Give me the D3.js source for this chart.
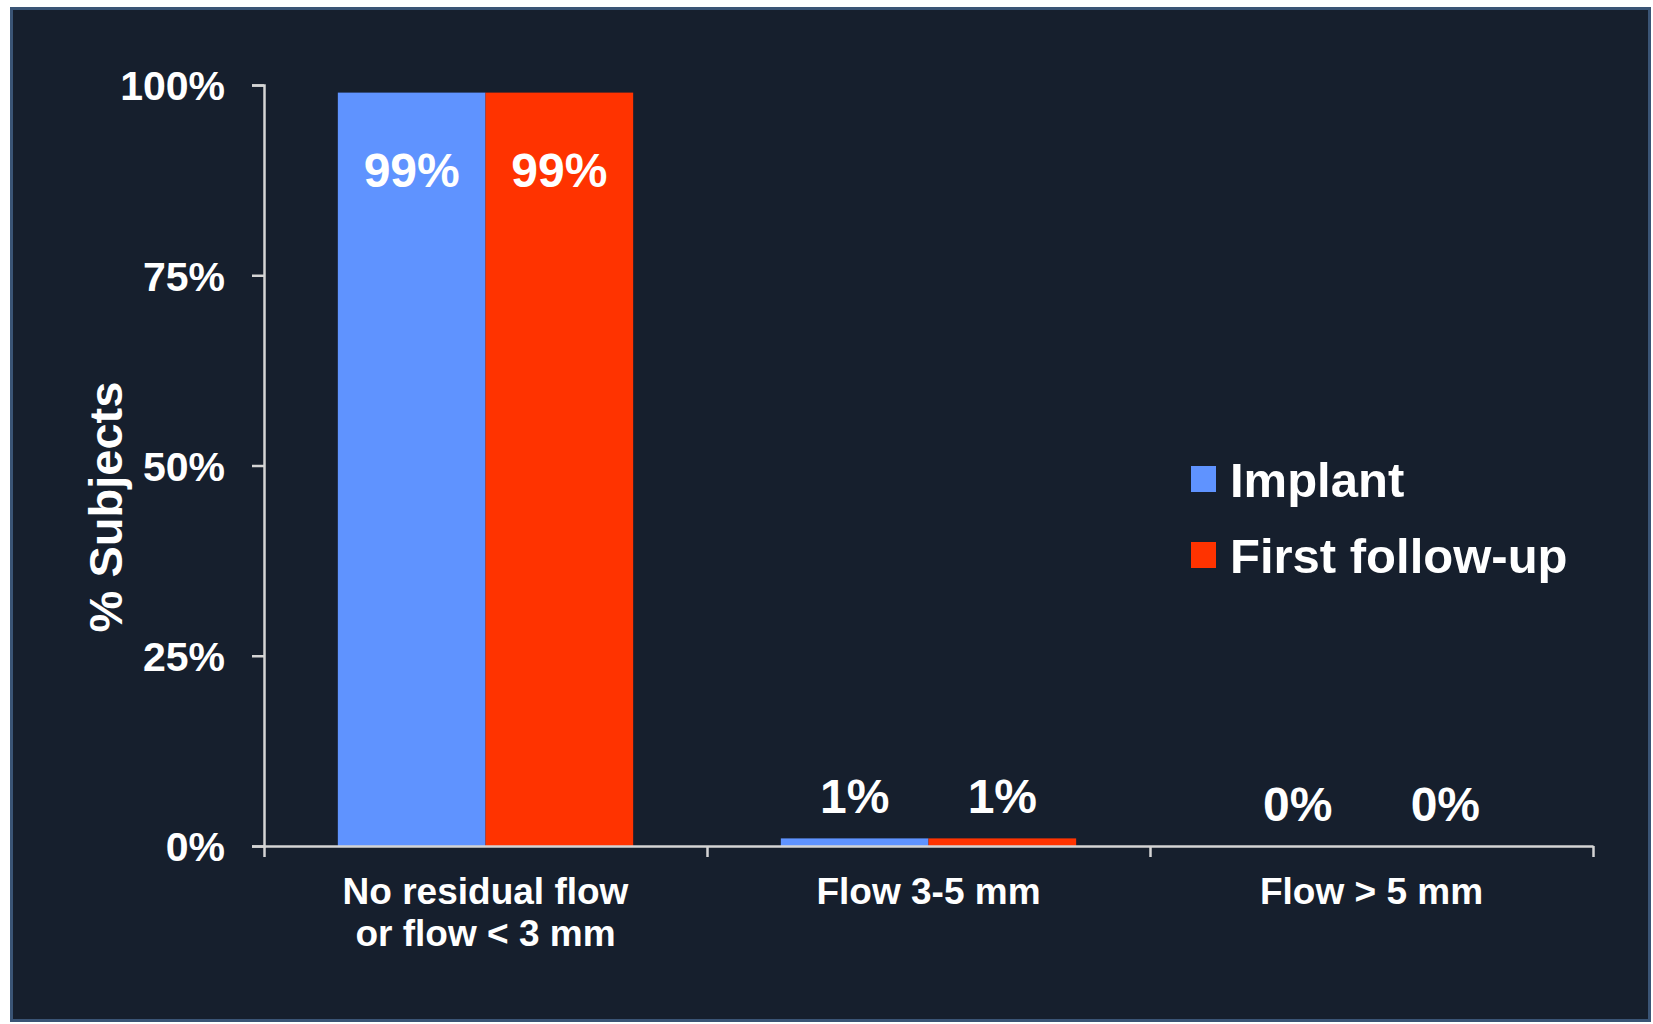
<!DOCTYPE html>
<html>
<head>
<meta charset="utf-8">
<script src="https://cdn.jsdelivr.net/npm/d3@7"></script>
<style>
  html, body { margin: 0; padding: 0; background: #ffffff; }
  svg { display: block; }
  text { font-family: "Liberation Sans", Arial, Helvetica, sans-serif; font-weight: bold; fill: #ffffff; }
</style>
</head>
<body>
<svg id="chart" width="1653" height="1024"></svg>
<script>
// Residual flow categories (two-line labels)
const categories = [
  ["No residual flow", "or flow < 3 mm"],
  ["Flow 3-5 mm"],
  ["Flow > 5 mm"]
];
const seriesNames = ["Implant", "First follow-up"];
const implantValues = [99, 1, 0];
const followUpValues = [99, 1, 0];
const yTicks = [0, 25, 50, 75, 100];
const colors = ["#5f93ff", "#ff3300"];

const series = [implantValues, followUpValues];

const svg = d3.select("#chart");

// Dark slide panel
svg.append("rect")
  .attr("x", 11.5).attr("y", 8.5)
  .attr("width", 1638).attr("height", 1012)
  .attr("fill", "#161f2d")
  .attr("stroke", "#3a5475").attr("stroke-width", 3);

const plot = { left: 264, right: 1593, top: 85, bottom: 846 };

const y = d3.scaleLinear().domain([0, 100]).range([plot.bottom, plot.top]);
const x0 = d3.scaleBand().domain(d3.range(categories.length))
  .range([plot.left, plot.right]).padding(0);
const bw = x0.bandwidth();
const x1 = d3.scaleBand().domain(d3.range(series.length))
  .range([bw / 6, bw * 5 / 6]).padding(0);

// Bars
const groups = svg.append("g").selectAll("g")
  .data(categories.map((c, i) => i))
  .join("g")
  .attr("transform", i => `translate(${x0(i)},0)`);

groups.selectAll("rect")
  .data(i => series.map((s, k) => ({ k, v: s[i] })))
  .join("rect")
  .attr("x", d => x1(d.k))
  .attr("y", d => y(d.v))
  .attr("width", x1.bandwidth())
  .attr("height", d => y(0) - y(d.v))
  .attr("fill", d => colors[d.k]);

// Value labels: inside tall bars, above short ones
groups.selectAll("text.val")
  .data(i => series.map((s, k) => ({ k, v: s[i] })))
  .join("text")
  .attr("class", "val")
  .attr("x", d => x1(d.k) + x1.bandwidth() / 2)
  .attr("y", d => d.v > 50 ? y(d.v) + 94 : y(d.v) - 25)
  .attr("text-anchor", "middle")
  .attr("font-size", 48)
  .text(d => d.v + "%");

// Y axis
const yAxis = svg.append("g")
  .attr("transform", `translate(${plot.left},0)`)
  .call(d3.axisLeft(y).tickValues(yTicks).tickSize(12).tickSizeOuter(12)
    .tickPadding(27).tickFormat(d => d + "%"));
yAxis.selectAll("path, line").attr("stroke", "#d4d4d4").attr("stroke-width", 2.5);
yAxis.selectAll("text")
  .attr("fill", "#ffffff")
  .attr("font-size", 41)
  .attr("font-family", "'Liberation Sans', Arial, sans-serif")
  .attr("font-weight", "bold")
  .attr("dy", "0.36em");

// X axis: ticks at category boundaries
const xb = d3.scaleLinear().domain([0, categories.length]).range([plot.left, plot.right]);
const xAxis = svg.append("g")
  .attr("transform", `translate(0,${plot.bottom})`)
  .call(d3.axisBottom(xb).tickValues(d3.range(categories.length + 1))
    .tickSize(11).tickSizeOuter(0).tickFormat(""));
xAxis.selectAll("path, line").attr("stroke", "#d4d4d4").attr("stroke-width", 2.5);

// Category labels
const catLabels = svg.append("g").selectAll("text")
  .data(categories)
  .join("text")
  .attr("x", (c, i) => x0(i) + bw / 2)
  .attr("y", 904)
  .attr("text-anchor", "middle")
  .attr("font-size", 37);
catLabels.selectAll("tspan")
  .data(c => c)
  .join("tspan")
  .attr("x", function () { return this.parentNode.getAttribute("x"); })
  .attr("dy", (d, i) => i === 0 ? 0 : 42)
  .text(d => d);

// Y axis title
svg.append("text")
  .attr("transform", "translate(122,507) rotate(-90)")
  .attr("text-anchor", "middle")
  .attr("font-size", 47)
  .text("% Subjects");

// Legend
const legend = svg.append("g").selectAll("g")
  .data(seriesNames)
  .join("g")
  .attr("transform", (d, i) => `translate(1191,${466 + i * 76})`);
legend.append("rect")
  .attr("width", 25).attr("height", 26)
  .attr("fill", (d, i) => colors[i]);
legend.append("text")
  .attr("x", 39).attr("y", 31)
  .attr("font-size", 49)
  .text(d => d);
</script>
</body>
</html>
